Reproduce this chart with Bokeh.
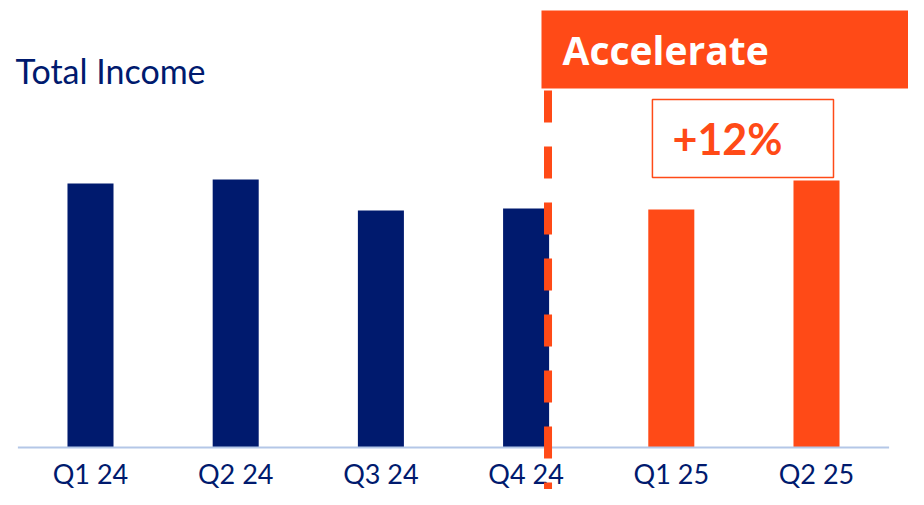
from bokeh.plotting import figure
from bokeh.models import Range1d, ColumnDataSource
from bokeh.core.properties import value
from bokeh.embed import file_html
from bokeh.resources import INLINE

# ---- data ----
quarters = ["Q1 24", "Q2 24", "Q3 24", "Q4 24", "Q1 25", "Q2 25"]
income = [2.64, 2.68, 2.37, 2.39, 2.38, 2.67]
phase = ["2024", "2024", "2024", "2024", "2025", "2025"]
title_text = "Total Income"
banner_text = "Accelerate"
growth_text = "+12%"

NAVY = "#001A6E"
ORANGE = "#FF4A17"
AXIS = "#B4C7E7"

palette = {"2024": NAVY, "2025": ORANGE}
xpos = [i + 0.5 for i in range(len(quarters))]
src = ColumnDataSource(dict(x=xpos, top=income, q=quarters,
                            color=[palette[p] for p in phase]))

p = figure(width=908, height=489,
           x_range=Range1d(-0.1198, 6.1336), y_range=Range1d(-0.42, 4.47),
           x_axis_location=None, y_axis_location=None,
           toolbar_location=None, output_backend="svg", min_border=0)
p.outline_line_color = None
p.xgrid.visible = False
p.ygrid.visible = False
p.background_fill_color = "white"
p.border_fill_color = "white"

# bars
p.vbar(x="x", top="top", bottom=0, width=0.317, fill_color="color",
       line_color=None, source=src)

# baseline (category axis line)
p.segment(x0=[0], y0=[0], x1=[len(quarters)], y1=[0], line_color=AXIS, line_width=2)

# category labels
p.text(x="x", y=-0.26, text="q", source=src, text_align="center",
       text_baseline="alphabetic", text_font=value("Lato"),
       text_font_size="27px", text_color=NAVY)

# title
p.text(x=[-0.0165], y=[3.77], text=[title_text], text_font=value("Lato"),
       text_font_size="34px", text_color=NAVY, text_baseline="alphabetic")

# banner
p.quad(left=[3.606], right=[6.4], bottom=[3.59], top=[4.37],
       fill_color=ORANGE, line_color=None)
p.text(x=[3.751], y=[3.98], text=[banner_text], text_font=value("Open Sans"),
       text_font_style="bold", text_font_size="39px", text_color="white",
       text_baseline="alphabetic")

# growth box
p.quad(left=[4.370], right=[5.617], bottom=[2.70], top=[3.48],
       fill_color="white", line_color=ORANGE, line_width=1.5)
p.text(x=[4.508], y=[3.09], text=[growth_text], text_font=value("Lato"),
       text_font_style="bold", text_font_size="43px", text_color=ORANGE,
       text_baseline="alphabetic")

# dashed divider
p.segment(x0=[3.651], y0=[3.57], x1=[3.651], y1=[-0.60], line_color=ORANGE,
          line_width=8, line_dash="32 24", line_cap="butt")

open("out.html", "w").write(file_html(p, INLINE))
